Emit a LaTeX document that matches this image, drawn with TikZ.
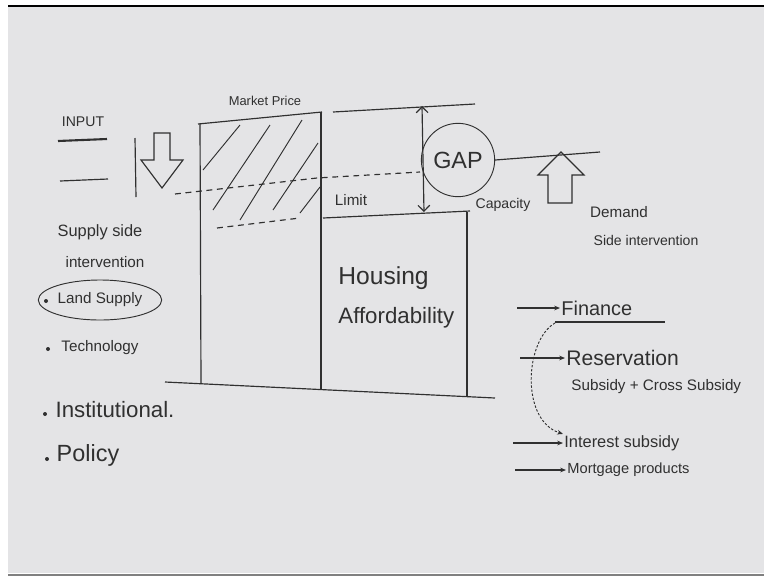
\documentclass[tikz,border=0pt]{standalone}
\usepackage{fontspec}
\setmainfont{Liberation Sans}
\usetikzlibrary{arrows.meta,shapes.geometric}
\definecolor{boardGray}{HTML}{E4E4E6}
\definecolor{inkGray}{HTML}{303030}
\tikzset{
  ink/.style={draw=inkGray, line width=1pt},
  inkdash/.style={ink, dash pattern=on 5pt off 4pt},
  inkdot/.style={ink, line width=0.8pt, dash pattern=on 2pt off 1.5pt},
  hand/.style={text=inkGray, inner sep=1pt, font=\fontsize{#1}{#1}\selectfont},
  tipped/.style={ink, -{Stealth[length=5pt,width=4pt]}}
}
\begin{document}
\begin{tikzpicture}[x=0.03cm, y=-0.03cm]
\useasboundingbox (0,0) rectangle (764,577);
% ---------- board ----------
\fill[white] (0,0) rectangle (764,577);
\fill[boardGray] (8,7) rectangle (764,573);
\draw[black, line width=2pt] (8,6) -- (764,6);
\draw[gray, line width=2pt] (8,575) -- (764,575);
% ---------- supply side, left ----------
\node[hand=12] (input) at (83,122) {INPUT};
\draw[ink, line width=1.8pt] (58,141) -- (107,139);
\draw[ink] (60,181) -- (108,179);
\draw[ink] (135,138) -- (136,197);
\draw[ink] (154,133) -- (170,133) -- (170,160) -- (183,160) -- (162,188)
  -- (141,160) -- (154,160) -- cycle;
\node[hand=14] (supply) at (100,232) {Supply side};
\node[hand=13] (suppint) at (105,262) {intervention};
\node[hand=13, ink, line width=0.8pt, ellipse, minimum width=3.7cm, minimum height=1.2cm] (land) at (100,300) {Land Supply};
\fill[inkGray] (46,301) circle (2);
\node[hand=13] (tech) at (100,348) {Technology};
\fill[inkGray] (48,349) circle (2);
\node[hand=19] (inst) at (115,410) {Institutional.};
\fill[inkGray] (45,414) circle (2);
\node[hand=20] (policy) at (88,455) {Policy};
\fill[inkGray] (47,459) circle (2);
% ---------- market price block, hatched ----------
\node[hand=11] (market) at (265,101) {Market Price};
\draw[ink] (198,124) -- (322,112);
\draw[ink] (200,124) -- (201,383);
\draw[ink] (321,112) -- (321,390);
\draw[ink] (333,112) -- (475,104);
\foreach \xa/\ya/\xb/\yb in {203/170/240/125, 213/210/270/125, 240/220/302/120,
                             273/210/318/143, 300/213/320/187}
  \draw[ink, line width=0.8pt] (\xa,\ya) -- (\xb,\yb);
\draw[inkdash] (175,194) -- (317,178) -- (420,172);
\draw[inkdash] (217,228) -- (300,218);
\node[hand=13] (limit) at (351,200) {Limit};
% ---------- housing affordability block ----------
\draw[ink] (323,218) -- (470,211);
\draw[ink] (467,212) -- (467,397);
\draw[ink] (165,382) -- (495,398);
\node[hand=21, anchor=west] (housing) at (337,278) {Housing};
\node[hand=19, anchor=west] (afford) at (337,318) {Affordability};
% ---------- gap and capacity ----------
\coordinate (gaptop) at (422,106);
\coordinate (gapbot) at (424,212);
\draw[ink, {Straight Barb[length=5pt]}-{Straight Barb[length=5pt]}] (gaptop) -- (gapbot);
\node[hand=20, ink, line width=0.8pt, ellipse, minimum width=1.9cm, minimum height=2.2cm] (gap) at (458,160) {GAP};
\draw[ink] (gap.east) -- (600,152);
\node[hand=12] (capacity) at (503,205) {Capacity};
\draw[ink] (548,203) -- (572,203) -- (572,175) -- (584,175) -- (561,152)
  -- (538,175) -- (548,175) -- cycle;
\node[hand=13] (demand) at (619,212) {Demand};
\node[hand=12] (demint) at (646,240) {Side intervention};
% ---------- demand side list ----------
\node[hand=17, anchor=west] (finance) at (560,308) {Finance};
\draw[ink] (555,322) -- (665,322);
\node[hand=18, anchor=west] (reserv) at (565,358) {Reservation};
\node[hand=13, anchor=west] (cross) at (570,387) {Subsidy + Cross Subsidy};
\node[hand=14, anchor=west] (interest) at (563,443) {Interest subsidy};
\node[hand=12.5, anchor=west] (mortgage) at (566,470) {Mortgage products};
\coordinate (finin) at (517,308);
\coordinate (resin) at (520,358);
\coordinate (intin) at (513,443);
\coordinate (morin) at (515,470);
\coordinate (curvefrom) at (555,323);
\draw[tipped] (finin) -- (finance.west);
\draw[tipped] (resin) -- (reserv.west);
\draw[tipped] (intin) -- (interest.west);
\draw[tipped] (morin) -- (mortgage.west);
\draw[inkdot, -{Stealth[length=5pt,width=4pt]}] (curvefrom) .. controls (525,340) and (520,420) .. (interest.north west);
\end{tikzpicture}
\end{document}
